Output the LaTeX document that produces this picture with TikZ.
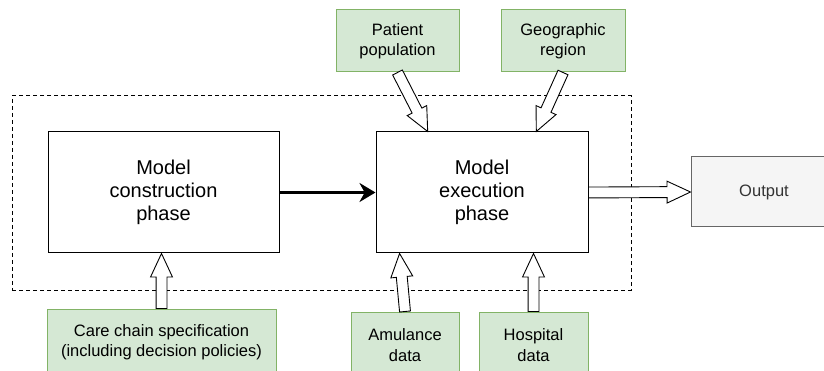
\documentclass[tikz,border=0pt]{standalone}
\usepackage{fontspec}
\setmainfont{Liberation Sans}
\usetikzlibrary{arrows.meta, positioning, calc, shapes.arrows}
\definecolor{inFill}{HTML}{D5E8D4}
\definecolor{inLine}{HTML}{82B366}
\definecolor{outFill}{HTML}{F5F5F5}
\definecolor{outLine}{HTML}{666666}
\definecolor{outText}{HTML}{333333}

% hollow block arrow from #1 to #2
\newcommand{\flexarrow}[2]{%
  \path let \p1=(#1), \p2=(#2), \n1={veclen(\x2-\x1,\y2-\y1)} in
    (\p1) -- (\p2) node[pos=0, sloped, allow upside down, anchor=tail,
      fatarrow, minimum height=\n1] {};}

\begin{document}
\begin{tikzpicture}[
    x=1pt, y=-1pt,
    phasebox/.style={rectangle, draw=black, fill=white, line width=1pt,
                     minimum height=121pt, align=center,
                     font=\fontsize{20}{23}\selectfont},
    inbox/.style={rectangle, draw=inLine, fill=inFill, line width=1pt,
                  align=center, font=\fontsize{16.5}{20.5}\selectfont},
    outbox/.style={rectangle, draw=outLine, fill=outFill, line width=1pt,
                   text=outText, font=\fontsize{16.5}{20}\selectfont},
    frame/.style={rectangle, draw=black, line width=1pt,
                  dash pattern=on 4pt off 3pt},
    fatarrow/.style={single arrow, draw=black, fill=white, line width=0.9pt,
                     inner sep=0pt, inner ysep=5pt, outer sep=0pt,
                     single arrow head extend=5.5pt, single arrow tip angle=50},
    boldarrow/.style={line width=3pt, -{Stealth[length=16pt, width=19pt]}},
  ]
    \useasboundingbox (0,0) rectangle (824,371);

    \node[frame, minimum width=619pt, minimum height=194pt] (phases) at (321.5,193) {};

    \node[phasebox, minimum width=231pt] (cons) at (163.5,192.5) {Model\\construction\\phase};
    \node[phasebox, minimum width=212pt] (exec) at (482,192.5) {Model\\execution\\phase};
    \node[outbox, minimum width=146pt, minimum height=70pt] (out) at (764,192) {Output};

    \node[inbox, minimum width=123pt, minimum height=62pt] (pat) at (397.5,41) {Patient\\population};
    \node[inbox, minimum width=124pt, minimum height=62pt] (geo) at (563,41) {Geographic\\region};
    \node[inbox, minimum width=229pt, minimum height=66pt] (care) at (161.5,342) {Care chain specification\\(including decision policies)};
    \node[inbox, minimum width=108pt, minimum height=66pt] (amb) at (405,345) {Amulance\\data};
    \node[inbox, minimum width=109pt, minimum height=66pt] (hosp) at (533.5,345) {Hospital\\data};

    \coordinate (patIn) at ($(exec.north west)!0.245!(exec.north east)$);
    \coordinate (geoIn) at ($(exec.north west)!0.755!(exec.north east)$);
    \coordinate (ambIn) at ($(exec.south west)!0.113!(exec.south east)$);

    \flexarrow{pat.south}{patIn}
    \flexarrow{geo.south}{geoIn}
    \flexarrow{care.north}{care.north |- cons.south}
    \flexarrow{amb.north}{ambIn}
    \flexarrow{hosp.north}{hosp.north |- exec.south}
    \flexarrow{exec.east}{out.west}

    \draw[boldarrow] (cons) -- (exec);
\end{tikzpicture}
\end{document}
